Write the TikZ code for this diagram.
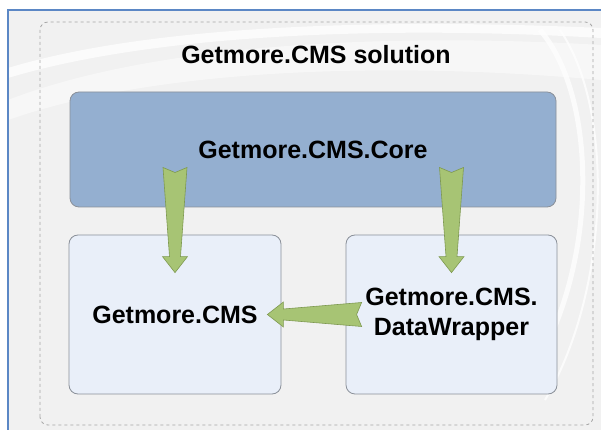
\documentclass[tikz,border=0pt]{standalone}
\usepackage{fontspec}
\setmainfont{Liberation Sans}
\usetikzlibrary{calc,positioning}

\definecolor{coreblue}{HTML}{94AFD0}
\definecolor{paleblue}{HTML}{E9EFF9}
\definecolor{boxline}{HTML}{8A9099}
\definecolor{arrowgreen}{HTML}{A7C474}
\definecolor{arrowline}{HTML}{7E9950}
\definecolor{frameblue}{HTML}{5B87C5}

\tikzset{
  module/.style={draw=boxline, line width=0.8pt, rounded corners=9pt, inner sep=0pt,
    align=center, font=\fontsize{25}{30}\selectfont\bfseries},
  swoosh/.style={white, opacity=0.75},
  fatarrow/.style={fill=arrowgreen, draw=arrowline, line width=0.6pt, line join=miter}
}

% tapered arrow from tail #1 to tip #2
\newcommand{\greenarrow}[2]{
  \coordinate (ab) at ($(#2)!16pt!(#1)$);
  \filldraw[fatarrow] ($(#1)!12pt!-90:(#2)$) -- ($(ab)!5.5pt!-90:(#2)$) -- ($(ab)!12.5pt!-90:(#2)$)
    -- (#2) -- ($(ab)!12.5pt!90:(#2)$) -- ($(ab)!5.5pt!90:(#2)$) -- ($(#1)!12pt!90:(#2)$)
    -- ($(#1)!5pt!(#2)$) -- cycle;
}

\begin{document}
\begin{tikzpicture}[x=1pt,y=1pt]
\useasboundingbox (0,0) rectangle (601,430);

% slide background
\fill[gray!11] (8,0) rectangle (601,420);
\fill[swoosh] (8,352) .. controls (150,395) and (380,405) .. (601,392) -- (601,402)
  .. controls (380,412) and (150,405) .. (8,362) -- cycle;
\fill[white, opacity=0.45] (8,330) .. controls (150,385) and (380,398) .. (601,385) -- (601,350)
  .. controls (380,370) and (150,360) .. (8,310) -- cycle;
\draw[swoosh, line width=5pt] (540,400) .. controls (600,330) and (600,150) .. (520,40);
\draw[swoosh, line width=2pt] (560,400) .. controls (615,320) and (610,140) .. (545,30);
\draw[frameblue, line width=2pt] (8,0) -- (8,420) -- (601,420);

% solution frame
\draw[gray!70, dashed, line width=0.8pt, rounded corners=8pt] (40,5) rectangle (593,408);
\node[font=\fontsize{25}{30}\selectfont\bfseries] (title) at (316,375) {Getmore.CMS solution};

% projects
\node[module, fill=coreblue, minimum width=486, minimum height=115] (core) at (313,280.5) {Getmore.CMS.Core};
\node[module, fill=paleblue, minimum width=212, minimum height=159] (cms) at (175,115.5) {Getmore.CMS};
\node[module, fill=paleblue, minimum width=211, minimum height=159] (dw) at (451.5,115.5) {Getmore.CMS.\\DataWrapper};

% references
\coordinate (t1) at ($(core.center -| cms.north)+(0,-18)$);
\coordinate (h1) at ($(cms.north)+(0,-38)$);
\coordinate (t2) at ($(core.center -| dw.north)+(0,-18)$);
\coordinate (h2) at ($(dw.north)+(0,-38)$);
\coordinate (t3) at ($(dw.west)+(16,0)$);
\coordinate (h3) at ($(cms.east)+(-14,0)$);
\greenarrow{t1}{h1}
\greenarrow{t2}{h2}
\greenarrow{t3}{h3}
\end{tikzpicture}
\end{document}
